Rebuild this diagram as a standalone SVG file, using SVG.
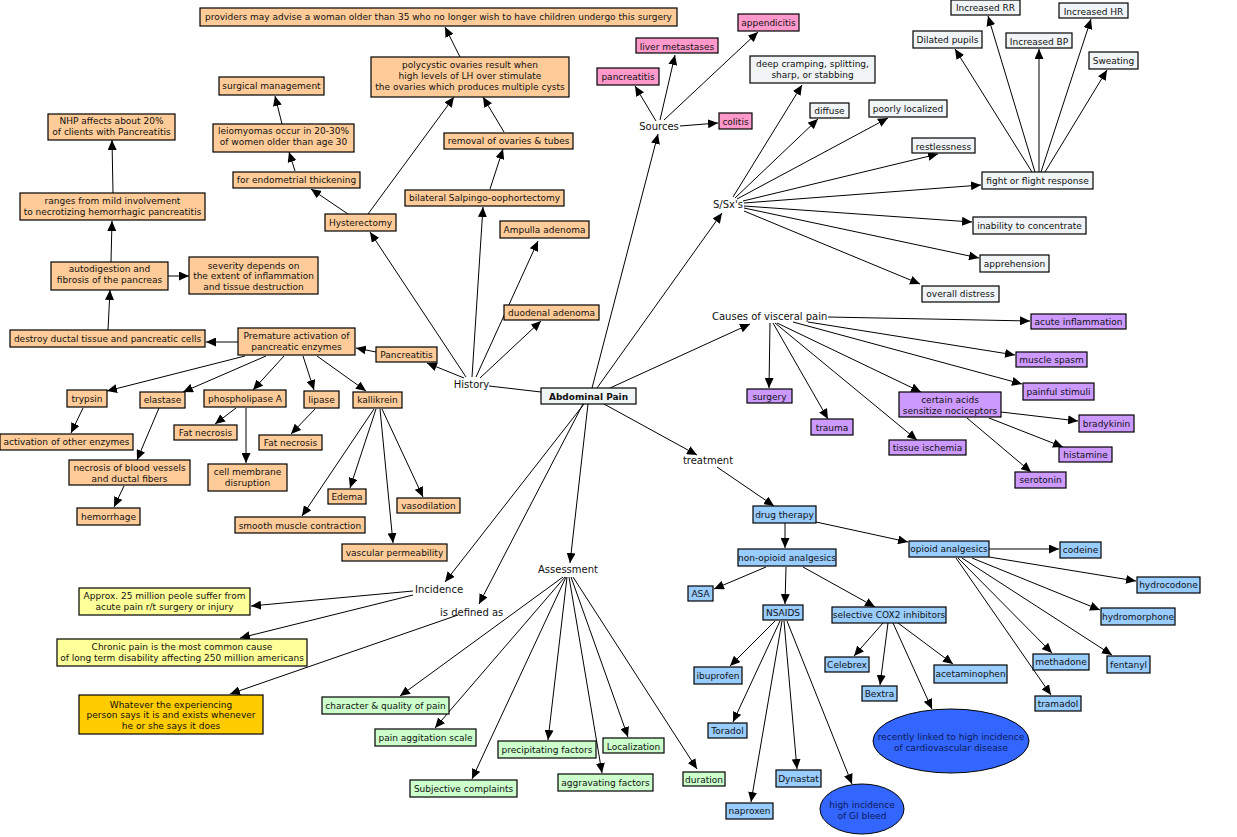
<svg xmlns="http://www.w3.org/2000/svg" width="1237" height="837" viewBox="0 0 1237 837">
<defs>
<marker id="ah" markerUnits="userSpaceOnUse" markerWidth="10" markerHeight="9" refX="10" refY="4.5" orient="auto"><path d="M0,0 L10,4.5 L0,9 z" fill="#000"/></marker>
<style>
rect{stroke:#000;stroke-width:1.2}
ellipse{stroke:#000;stroke-width:1}
.o{fill:#FFCC99}.p{fill:#FF99CC}.g{fill:#F0F4F6}.v{fill:#CC99FF}.b{fill:#99CCFF}.gr{fill:#CCFFCC}.y{fill:#FFFF99}.au{fill:#FFCC00}.e{fill:#3366FF}
text{font-family:"DejaVu Sans",Verdana,sans-serif;font-size:9px;fill:#111;text-anchor:middle}
text.l{font-size:10px}
text.s{text-anchor:start}
text.bd{font-weight:bold}
text.et{fill:#0a1a5a}
#connectors line{stroke:#000;stroke-width:1;fill:none}
#connectors line.a{marker-end:url(#ah)}
</style>
</defs>
<rect x="0" y="0" width="1237" height="837" fill="#fff" stroke="none" style="stroke:none"/>
<g id="connectors">
<line x1="541" y1="392" x2="489" y2="386"/>
<line class="a" x1="592" y1="388" x2="658" y2="134"/>
<line class="a" x1="597" y1="388" x2="722" y2="213"/>
<line class="a" x1="610" y1="388" x2="750" y2="324"/>
<line class="a" x1="604" y1="404" x2="697" y2="455"/>
<line class="a" x1="588" y1="404" x2="570" y2="563"/>
<line class="a" x1="584" y1="404" x2="445" y2="582"/>
<line class="a" x1="583" y1="404" x2="479" y2="604"/>
<line class="a" x1="464" y1="378" x2="427" y2="363"/>
<line class="a" x1="466" y1="377" x2="370" y2="232"/>
<line class="a" x1="472" y1="377" x2="483" y2="207"/>
<line class="a" x1="476" y1="377" x2="538" y2="241"/>
<line class="a" x1="480" y1="378" x2="541" y2="321"/>
<line class="a" x1="348" y1="214" x2="311" y2="189"/>
<line class="a" x1="368" y1="214" x2="454" y2="97"/>
<line class="a" x1="295" y1="171" x2="289" y2="152"/>
<line class="a" x1="282" y1="124" x2="275" y2="96"/>
<line class="a" x1="490" y1="189" x2="503" y2="149"/>
<line class="a" x1="504" y1="132" x2="483" y2="97"/>
<line class="a" x1="460" y1="57" x2="445" y2="27"/>
<line class="a" x1="376" y1="352" x2="356" y2="348"/>
<line class="a" x1="238" y1="342" x2="206" y2="342"/>
<line class="a" x1="108" y1="330" x2="110" y2="290"/>
<line class="a" x1="168" y1="276" x2="189" y2="276"/>
<line class="a" x1="111" y1="262" x2="112" y2="221"/>
<line class="a" x1="113" y1="193" x2="112" y2="140"/>
<line class="a" x1="245" y1="356" x2="107" y2="391"/>
<line class="a" x1="266" y1="356" x2="183" y2="392"/>
<line class="a" x1="284" y1="356" x2="253" y2="390"/>
<line class="a" x1="303" y1="356" x2="314" y2="390"/>
<line class="a" x1="317" y1="356" x2="366" y2="391"/>
<line class="a" x1="83" y1="408" x2="71" y2="433"/>
<line class="a" x1="159" y1="408" x2="137" y2="460"/>
<line class="a" x1="236" y1="408" x2="215" y2="424"/>
<line class="a" x1="246" y1="408" x2="246" y2="463"/>
<line class="a" x1="315" y1="409" x2="291" y2="434"/>
<line class="a" x1="374" y1="409" x2="302" y2="516"/>
<line class="a" x1="376" y1="409" x2="350" y2="488"/>
<line class="a" x1="380" y1="409" x2="393" y2="543"/>
<line class="a" x1="382" y1="409" x2="423" y2="497"/>
<line class="a" x1="124" y1="486" x2="114" y2="507"/>
<line class="a" x1="656" y1="121" x2="635" y2="86"/>
<line class="a" x1="660" y1="120" x2="675" y2="55"/>
<line class="a" x1="664" y1="120" x2="758" y2="32"/>
<line class="a" x1="680" y1="126" x2="718" y2="123"/>
<line class="a" x1="733" y1="197" x2="802" y2="85"/>
<line class="a" x1="735" y1="198" x2="818" y2="119"/>
<line class="a" x1="737" y1="199" x2="888" y2="118"/>
<line class="a" x1="743" y1="201" x2="938" y2="154"/>
<line class="a" x1="744" y1="203" x2="981" y2="185"/>
<line class="a" x1="744" y1="206" x2="972" y2="222"/>
<line class="a" x1="744" y1="208" x2="979" y2="258"/>
<line class="a" x1="744" y1="211" x2="920" y2="284"/>
<line class="a" x1="1032" y1="172" x2="955" y2="49"/>
<line class="a" x1="1035" y1="172" x2="988" y2="16"/>
<line class="a" x1="1039" y1="172" x2="1039" y2="49"/>
<line class="a" x1="1041" y1="172" x2="1091" y2="19"/>
<line class="a" x1="1045" y1="172" x2="1107" y2="70"/>
<line class="a" x1="828" y1="317" x2="1030" y2="321"/>
<line class="a" x1="808" y1="322" x2="1015" y2="355"/>
<line class="a" x1="793" y1="322" x2="1022" y2="384"/>
<line class="a" x1="777" y1="323" x2="921" y2="392"/>
<line class="a" x1="775" y1="323" x2="917" y2="440"/>
<line class="a" x1="773" y1="323" x2="828" y2="419"/>
<line class="a" x1="770" y1="323" x2="769" y2="388"/>
<line class="a" x1="1001" y1="412" x2="1078" y2="421"/>
<line class="a" x1="989" y1="418" x2="1063" y2="447"/>
<line class="a" x1="967" y1="418" x2="1031" y2="472"/>
<line class="a" x1="717" y1="467" x2="774" y2="506"/>
<line class="a" x1="785" y1="523" x2="785" y2="548"/>
<line class="a" x1="816" y1="522" x2="908" y2="542"/>
<line class="a" x1="989" y1="549" x2="1059" y2="549"/>
<line class="a" x1="989" y1="557" x2="1136" y2="581"/>
<line class="a" x1="972" y1="558" x2="1100" y2="610"/>
<line class="a" x1="962" y1="558" x2="1112" y2="655"/>
<line class="a" x1="958" y1="558" x2="1052" y2="653"/>
<line class="a" x1="956" y1="558" x2="1051" y2="695"/>
<line class="a" x1="766" y1="567" x2="714" y2="589"/>
<line class="a" x1="786" y1="567" x2="785" y2="604"/>
<line class="a" x1="803" y1="567" x2="875" y2="607"/>
<line class="a" x1="775" y1="621" x2="730" y2="666"/>
<line class="a" x1="780" y1="621" x2="733" y2="722"/>
<line class="a" x1="782" y1="621" x2="751" y2="802"/>
<line class="a" x1="784" y1="621" x2="797" y2="769"/>
<line class="a" x1="787" y1="621" x2="852" y2="784"/>
<line class="a" x1="883" y1="623" x2="854" y2="656"/>
<line class="a" x1="888" y1="623" x2="880" y2="685"/>
<line class="a" x1="893" y1="623" x2="932" y2="709"/>
<line class="a" x1="898" y1="623" x2="953" y2="664"/>
<line class="a" x1="413" y1="591" x2="251" y2="606"/>
<line class="a" x1="413" y1="595" x2="240" y2="638"/>
<line class="a" x1="458" y1="615" x2="230" y2="694"/>
<line class="a" x1="563" y1="577" x2="400" y2="696"/>
<line class="a" x1="565" y1="577" x2="435" y2="728"/>
<line class="a" x1="566" y1="577" x2="472" y2="779"/>
<line class="a" x1="567" y1="577" x2="548" y2="740"/>
<line class="a" x1="569" y1="577" x2="602" y2="773"/>
<line class="a" x1="571" y1="577" x2="628" y2="737"/>
<line class="a" x1="573" y1="577" x2="697" y2="769"/>
</g>

<g id="n-providers"><rect class="o" x="200" y="8" width="477" height="18"/><text x="438.5" y="20">providers may advise a woman older than 35 who no longer wish to have children undergo this surgery</text></g>
<g id="n-polycystic"><rect class="o" x="371" y="57" width="198" height="40"/><text x="470" y="68"><tspan x="470">polycystic ovaries result when</tspan><tspan x="470" dy="11">high levels of LH over stimulate</tspan><tspan x="470" dy="11">the ovaries which produces multiple cysts</tspan></text></g>
<g id="n-surgical"><rect class="o" x="219" y="77" width="105" height="18"/><text x="271.5" y="89">surgical management</text></g>
<g id="n-leiomyomas"><rect class="o" x="213" y="124" width="141" height="28"/><text x="283.5" y="134"><tspan x="283.5">leiomyomas occur in 20-30%</tspan><tspan x="283.5" dy="11">of women older than age 30</tspan></text></g>
<g id="n-nhp"><rect class="o" x="48" y="114" width="127" height="26"/><text x="111.5" y="124"><tspan x="111.5">NHP affects about 20%</tspan><tspan x="111.5" dy="11">of clients with Pancreatitis</tspan></text></g>
<g id="n-removal"><rect class="o" x="444" y="133" width="129" height="16"/><text x="508.5" y="144">removal of ovaries &amp; tubes</text></g>
<g id="n-endometrial"><rect class="o" x="233" y="172" width="127" height="16"/><text x="296.5" y="183">for endometrial thickening</text></g>
<g id="n-bilateral"><rect class="o" x="405" y="190" width="159" height="16"/><text x="484.5" y="201">bilateral Salpingo-oophortectomy</text></g>
<g id="n-ranges"><rect class="o" x="20" y="193" width="185" height="27"/><text x="112.5" y="204"><tspan x="112.5">ranges from mild involvement</tspan><tspan x="112.5" dy="11">to necrotizing hemorrhagic pancreatitis</tspan></text></g>
<g id="n-hysterectomy"><rect class="o" x="325" y="214" width="71" height="17"/><text x="360.5" y="225.5">Hysterectomy</text></g>
<g id="n-ampulla"><rect class="o" x="500" y="221" width="89" height="17"/><text x="544.5" y="232.5">Ampulla adenoma</text></g>
<g id="n-autodigestion"><rect class="o" x="51" y="262" width="117" height="28"/><text x="109.5" y="272"><tspan x="109.5">autodigestion and</tspan><tspan x="109.5" dy="11">fibrosis of the pancreas</tspan></text></g>
<g id="n-severity"><rect class="o" x="189" y="257" width="129" height="37"/><text x="253.5" y="268.5"><tspan x="253.5">severity depends on</tspan><tspan x="253.5" dy="10.8">the extent of inflammation</tspan><tspan x="253.5" dy="10.8">and tissue destruction</tspan></text></g>
<g id="n-duodenal"><rect class="o" x="504" y="305" width="95" height="15"/><text x="551.5" y="316">duodenal adenoma</text></g>
<g id="n-destroy"><rect class="o" x="10" y="330" width="195" height="17"/><text x="107.5" y="342">destroy ductal tissue and pancreatic cells</text></g>
<g id="n-premature"><rect class="o" x="238" y="328" width="117" height="27"/><text x="296.5" y="339"><tspan x="296.5">Premature activation of</tspan><tspan x="296.5" dy="11">pancreatic enzymes</tspan></text></g>
<g id="n-pancreatitis-h"><rect class="o" x="376" y="347" width="61" height="15"/><text x="406.5" y="357.5">Pancreatitis</text></g>
<g id="n-trypsin"><rect class="o" x="67" y="390" width="40" height="17"/><text x="87" y="401.5">trypsin</text></g>
<g id="n-elastase"><rect class="o" x="140" y="392" width="45" height="16"/><text x="162.5" y="403">elastase</text></g>
<g id="n-phospholipase"><rect class="o" x="204" y="390" width="82" height="17"/><text x="245" y="401.5">phospholipase A</text></g>
<g id="n-lipase"><rect class="o" x="304" y="391" width="35" height="17"/><text x="321.5" y="403">lipase</text></g>
<g id="n-kallikrein"><rect class="o" x="353" y="392" width="49" height="16"/><text x="377.5" y="403">kallikrein</text></g>
<g id="n-activation"><rect class="o" x="0" y="434" width="133" height="16"/><text x="66.5" y="445">activation of other enzymes</text></g>
<g id="n-fatnec1"><rect class="o" x="174" y="425" width="63" height="15"/><text x="205.5" y="436">Fat necrosis</text></g>
<g id="n-fatnec2"><rect class="o" x="259" y="435" width="63" height="15"/><text x="290.5" y="446">Fat necrosis</text></g>
<g id="n-necrosis"><rect class="o" x="69" y="460" width="121" height="25"/><text x="129.5" y="471"><tspan x="129.5">necrosis of blood vessels</tspan><tspan x="129.5" dy="11">and ductal fibers</tspan></text></g>
<g id="n-cellmembrane"><rect class="o" x="208" y="464" width="79" height="27"/><text x="247.5" y="475"><tspan x="247.5">cell membrane</tspan><tspan x="247.5" dy="11">disruption</tspan></text></g>
<g id="n-hemorrhage"><rect class="o" x="77" y="508" width="63" height="17"/><text x="108.5" y="520">hemorrhage</text></g>
<g id="n-edema"><rect class="o" x="328" y="489" width="38" height="15"/><text x="347" y="500">Edema</text></g>
<g id="n-vasodilation"><rect class="o" x="397" y="498" width="63" height="15"/><text x="428.5" y="509">vasodilation</text></g>
<g id="n-smooth"><rect class="o" x="235" y="517" width="130" height="16"/><text x="300" y="529">smooth muscle contraction</text></g>
<g id="n-vascular"><rect class="o" x="342" y="544" width="105" height="17"/><text x="394.5" y="555.5">vascular permeability</text></g>

<g id="n-appendicitis"><rect class="p" x="738" y="14" width="61" height="17"/><text x="768.5" y="26">appendicitis</text></g>
<g id="n-liver"><rect class="p" x="636" y="38" width="82" height="15"/><text x="677" y="49.5">liver metastases</text></g>
<g id="n-pancreatitis-s"><rect class="p" x="597" y="68" width="62" height="17"/><text x="628" y="79.5">pancreatitis</text></g>
<g id="n-colitis"><rect class="p" x="719" y="113" width="33" height="16"/><text x="735.5" y="124.5">colitis</text></g>

<g id="n-deep"><rect class="g" x="750" y="56" width="125" height="27"/><text x="812.5" y="67"><tspan x="812.5">deep cramping, splitting,</tspan><tspan x="812.5" dy="10.5">sharp, or stabbing</tspan></text></g>
<g id="n-diffuse"><rect class="g" x="810" y="103" width="39" height="15"/><text x="829.5" y="114">diffuse</text></g>
<g id="n-poorly"><rect class="g" x="869" y="100" width="78" height="17"/><text x="908" y="111.5">poorly localized</text></g>
<g id="n-restless"><rect class="g" x="912" y="138" width="63" height="15"/><text x="943.5" y="149.5">restlessness</text></g>
<g id="n-fight"><rect class="g" x="982" y="172" width="111" height="17"/><text x="1037.5" y="184">fight or flight response</text></g>
<g id="n-inability"><rect class="g" x="973" y="217" width="113" height="17"/><text x="1029.5" y="229">inability to concentrate</text></g>
<g id="n-apprehension"><rect class="g" x="980" y="255" width="69" height="17"/><text x="1014.5" y="267">apprehension</text></g>
<g id="n-overall"><rect class="g" x="922" y="286" width="77" height="16"/><text x="960.5" y="297">overall distress</text></g>
<g id="n-dilated"><rect class="g" x="913" y="31" width="69" height="17"/><text x="947.5" y="43">Dilated pupils</text></g>
<g id="n-rr"><rect class="g" x="951" y="0" width="69" height="15"/><text x="985.5" y="11">Increased RR</text></g>
<g id="n-bp"><rect class="g" x="1006" y="33" width="66" height="15"/><text x="1039" y="45">Increased BP</text></g>
<g id="n-hr"><rect class="g" x="1059" y="3" width="69" height="15"/><text x="1093.5" y="14.5">Increased HR</text></g>
<g id="n-sweating"><rect class="g" x="1089" y="52" width="49" height="17"/><text x="1113.5" y="63.5">Sweating</text></g>

<g id="n-abdominal"><rect class="g" x="541" y="388" width="95" height="16"/><text class="bd" x="588.5" y="399.5">Abdominal Pain</text></g>

<g id="n-acute"><rect class="v" x="1031" y="314" width="95" height="15"/><text x="1078.5" y="325">acute inflammation</text></g>
<g id="n-spasm"><rect class="v" x="1016" y="352" width="71" height="15"/><text x="1051.5" y="363">muscle spasm</text></g>
<g id="n-stimuli"><rect class="v" x="1023" y="383" width="71" height="17"/><text x="1058.5" y="394.5">painful stimuli</text></g>
<g id="n-surgery"><rect class="v" x="747" y="389" width="45" height="14"/><text x="769.5" y="399.5">surgery</text></g>
<g id="n-acids"><rect class="v" x="899" y="392" width="102" height="25"/><text x="950" y="402.5"><tspan x="950">certain acids</tspan><tspan x="950" dy="11">sensitize nociceptors</tspan></text></g>
<g id="n-bradykinin"><rect class="v" x="1079" y="415" width="55" height="17"/><text x="1106.5" y="426.5">bradykinin</text></g>
<g id="n-trauma"><rect class="v" x="811" y="419" width="42" height="16"/><text x="832" y="430.5">trauma</text></g>
<g id="n-ischemia"><rect class="v" x="889" y="440" width="77" height="15"/><text x="927.5" y="451">tissue ischemia</text></g>
<g id="n-histamine"><rect class="v" x="1059" y="447" width="53" height="15"/><text x="1085.5" y="458">histamine</text></g>
<g id="n-serotonin"><rect class="v" x="1015" y="472" width="51" height="16"/><text x="1040.5" y="483">serotonin</text></g>

<g id="n-drug"><rect class="b" x="753" y="506" width="63" height="17"/><text x="784.5" y="517.5">drug therapy</text></g>
<g id="n-opioid"><rect class="b" x="909" y="541" width="80" height="16"/><text x="949" y="552">opioid analgesics</text></g>
<g id="n-codeine"><rect class="b" x="1060" y="542" width="41" height="16"/><text x="1080.5" y="553">codeine</text></g>
<g id="n-nonopioid"><rect class="b" x="738" y="549" width="98" height="17"/><text x="787" y="561">non-opioid analgesics</text></g>
<g id="n-hydrocodone"><rect class="b" x="1137" y="577" width="63" height="16"/><text x="1168.5" y="588">hydrocodone</text></g>
<g id="n-asa"><rect class="b" x="688" y="586" width="25" height="15"/><text x="700.5" y="597">ASA</text></g>
<g id="n-nsaids"><rect class="b" x="763" y="605" width="40" height="15"/><text x="783" y="616">NSAIDS</text></g>
<g id="n-cox2"><rect class="b" x="832" y="607" width="114" height="16"/><text x="889" y="618">selective COX2 inhibitors</text></g>
<g id="n-hydromorphone"><rect class="b" x="1101" y="608" width="74" height="17"/><text x="1138" y="620">hydromorphone</text></g>
<g id="n-celebrex"><rect class="b" x="825" y="657" width="44" height="15"/><text x="847" y="668">Celebrex</text></g>
<g id="n-ibuprofen"><rect class="b" x="694" y="667" width="48" height="17"/><text x="718" y="679">ibuprofen</text></g>
<g id="n-acetaminophen"><rect class="b" x="934" y="665" width="73" height="18"/><text x="970.5" y="677">acetaminophen</text></g>
<g id="n-methadone"><rect class="b" x="1033" y="654" width="56" height="16"/><text x="1061" y="665">methadone</text></g>
<g id="n-fentanyl"><rect class="b" x="1107" y="656" width="43" height="17"/><text x="1128.5" y="667.5">fentanyl</text></g>
<g id="n-bextra"><rect class="b" x="862" y="686" width="35" height="15"/><text x="879.5" y="697">Bextra</text></g>
<g id="n-tramadol"><rect class="b" x="1035" y="696" width="46" height="15"/><text x="1058" y="707">tramadol</text></g>
<g id="n-toradol"><rect class="b" x="708" y="723" width="39" height="15"/><text x="727.5" y="734">Toradol</text></g>
<g id="n-dynastat"><rect class="b" x="776" y="770" width="45" height="17"/><text x="798.5" y="781.5">Dynastat</text></g>
<g id="n-naproxen"><rect class="b" x="726" y="803" width="47" height="16"/><text x="749.5" y="814">naproxen</text></g>
<g id="n-cardio"><ellipse class="e" cx="951" cy="741" rx="78" ry="32"/><text class="et" x="951" y="740"><tspan x="951">recently linked to high incidence</tspan><tspan x="951" dy="10.5">of cardiovascular disease</tspan></text></g>
<g id="n-gibleed"><ellipse class="e" cx="862" cy="809" rx="42" ry="25"/><text class="et" x="862" y="808"><tspan x="862">high incidence</tspan><tspan x="862" dy="10.5">of GI bleed</tspan></text></g>

<g id="n-character"><rect class="gr" x="322" y="697" width="127" height="17"/><text x="385.5" y="709">character &amp; quality of pain</text></g>
<g id="n-agitation"><rect class="gr" x="375" y="729" width="101" height="17"/><text x="425.5" y="740.5">pain aggitation scale</text></g>
<g id="n-precipitating"><rect class="gr" x="498" y="741" width="98" height="17"/><text x="547" y="752.5">precipitating factors</text></g>
<g id="n-localization"><rect class="gr" x="603" y="738" width="61" height="15"/><text x="633.5" y="749.5">Localization</text></g>
<g id="n-subjective"><rect class="gr" x="410" y="780" width="107" height="17"/><text x="463.5" y="791.5">Subjective complaints</text></g>
<g id="n-aggravating"><rect class="gr" x="558" y="774" width="95" height="17"/><text x="605.5" y="785.5">aggravating factors</text></g>
<g id="n-duration"><rect class="gr" x="683" y="772" width="42" height="14"/><text x="704" y="782.5">duration</text></g>

<g id="n-approx"><rect class="y" x="79" y="588" width="171" height="27"/><text x="164.5" y="598.5"><tspan x="164.5">Approx. 25 million peole suffer from</tspan><tspan x="164.5" dy="11">acute pain r/t surgery or injury</tspan></text></g>
<g id="n-chronic"><rect class="y" x="57" y="639" width="250" height="27"/><text x="182" y="650"><tspan x="182">Chronic pain is the most common cause</tspan><tspan x="182" dy="11">of long term disability affecting 250 million americans</tspan></text></g>
<g id="n-whatever"><rect class="au" x="79" y="695" width="184" height="39"/><text x="171" y="707.5"><tspan x="171">Whatever the experiencing</tspan><tspan x="171" dy="10.7">person says it is and exists whenever</tspan><tspan x="171" dy="10.7">he or she says it does</tspan></text></g>

<g id="l-history"><text class="l" x="471.5" y="387.5">History</text></g>
<g id="l-sources"><text class="l" x="659" y="129.5">Sources</text></g>
<g id="l-ssx"><text class="l" x="728" y="207.5">S/Sx's</text></g>
<g id="l-causes"><text class="l s" x="712" y="319.5">Causes of visceral pain</text></g>
<g id="l-treatment"><text class="l" x="708" y="463.5">treatment</text></g>
<g id="l-assessment"><text class="l" x="568" y="572.5">Assessment</text></g>
<g id="l-incidence"><text class="l s" x="415" y="592.5">Incidence</text></g>
<g id="l-defined"><text class="l s" x="440" y="615.5">is defined as</text></g>
</svg>
